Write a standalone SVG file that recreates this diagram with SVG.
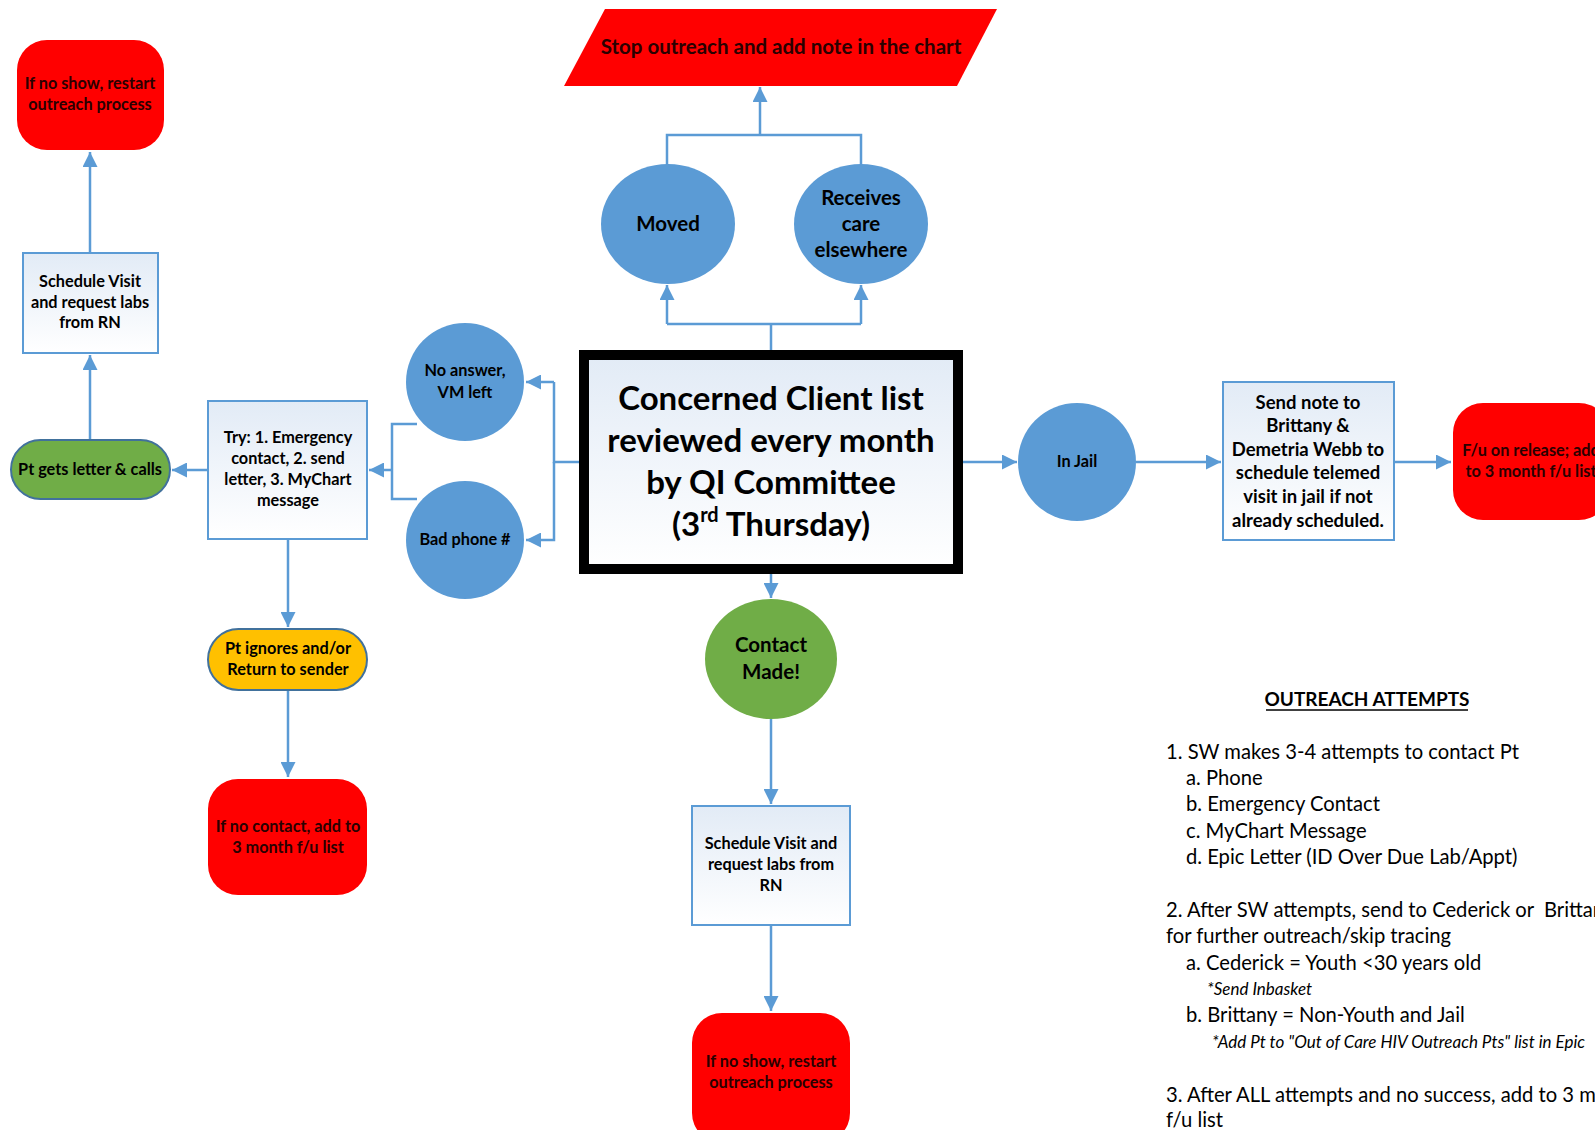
<svg xmlns="http://www.w3.org/2000/svg" width="1595" height="1130" viewBox="0 0 1595 1130">
<defs>
<linearGradient id="bg" x1="0" y1="0" x2="0" y2="1"><stop offset="0" stop-color="#e2ebf6"/><stop offset="1" stop-color="#ffffff"/></linearGradient>
<marker id="ah" viewBox="0 0 10 10" refX="10" refY="5" markerWidth="6" markerHeight="6" orient="auto" markerUnits="strokeWidth"><path d="M0,0 L10,5 L0,10 z" fill="#5b9bd5"/></marker>
</defs>
<style>
.c{stroke:#5b9bd5;stroke-width:2.5;fill:none}
.a{marker-end:url(#ah)}
.box{fill:url(#bg);stroke:#5b9bd5;stroke-width:2}
.blue{fill:#5b9bd5}
.red{fill:#ff0000}
.green{fill:#70ad47}
.yel{fill:#ffc000}
.st{stroke:#41719c;stroke-width:2}
.t{font-family:Lato,"Open Sans","Liberation Sans",sans-serif;font-weight:bold;text-anchor:middle;fill:#000}
.s16{font-size:16.3px}
.s18{font-size:18.5px}
.s20{font-size:20.5px}
.s33{font-size:33px}
.dr{fill:#2a0000}
.l{font-family:Lato,"Open Sans","Liberation Sans",sans-serif;font-size:20.2px;fill:#000}
.i{font-family:Lato,"Open Sans","Liberation Sans",sans-serif;font-style:italic;font-size:17px;fill:#000}
</style>
<rect width="1595" height="1130" fill="#ffffff"/>

<g id="connectors">
<path class="c a" d="M90,440 V355"/>
<path class="c a" d="M90,253 V152"/>
<path class="c a" d="M208,470 H172"/>
<path class="c a" d="M288,539 V627"/>
<path class="c a" d="M288,690 V777"/>
<path class="c" d="M417,424 H392 V499 H417"/>
<path class="c a" d="M392,470 H369"/>
<path class="c" d="M579,462 H554 V382"/>
<path class="c a" d="M554,382 H526"/>
<path class="c a" d="M554,462 V540 H526"/>
<path class="c" d="M771,350 V324 M667,324 H861"/>
<path class="c a" d="M667,324 V285"/>
<path class="c a" d="M861,324 V285"/>
<path class="c" d="M667,165 V135 H861 V165"/>
<path class="c a" d="M760,135 V87"/>
<path class="c a" d="M771,574 V598"/>
<path class="c a" d="M771,719 V804"/>
<path class="c a" d="M771,925 V1011"/>
<path class="c a" d="M963,462 H1017"/>
<path class="c a" d="M1136,462 H1221"/>
<path class="c a" d="M1394,462 H1451"/>
</g>

<g id="n-restart-top">
<rect class="red" x="17" y="40" width="147" height="110" rx="30"/>
<text class="t s16 dr" x="90" y="89">If no show, restart</text>
<text class="t s16 dr" x="90" y="110">outreach process</text>
</g>

<g id="n-schedule-left">
<rect class="box" x="23" y="253" width="135" height="100"/>
<text class="t s16" x="90" y="287">Schedule Visit</text>
<text class="t s16" x="90" y="308">and request labs</text>
<text class="t s16" x="90" y="328">from RN</text>
</g>

<g id="n-pt-gets">
<rect class="green st" x="11" y="440" width="159" height="59" rx="29.5"/>
<text class="t s16" x="90" y="475">Pt gets letter &amp; calls</text>
</g>

<g id="n-try">
<rect class="box" x="208" y="401" width="159" height="138"/>
<text class="t s16" x="288" y="443">Try: 1. Emergency</text>
<text class="t s16" x="288" y="464">contact, 2. send</text>
<text class="t s16" x="288" y="485">letter, 3. MyChart</text>
<text class="t s16" x="288" y="506">message</text>
</g>

<g id="n-ignores">
<rect class="yel st" x="208" y="629" width="159" height="61" rx="30.5"/>
<text class="t s16" x="288" y="654">Pt ignores and/or</text>
<text class="t s16" x="288" y="675">Return to sender</text>
</g>

<g id="n-nocontact">
<rect class="red" x="208" y="779" width="159" height="116" rx="30"/>
<text class="t s16 dr" x="288" y="832">If no contact, add to</text>
<text class="t s16 dr" x="288" y="853">3 month f/u list</text>
</g>

<g id="n-noanswer">
<ellipse class="blue" cx="465" cy="382" rx="59" ry="59"/>
<text class="t s16" x="465" y="376">No answer,</text>
<text class="t s16" x="465" y="398">VM left</text>
</g>

<g id="n-badphone">
<ellipse class="blue" cx="465" cy="540" rx="59" ry="59"/>
<text class="t s16" x="465" y="545">Bad phone #</text>
</g>

<g id="n-main">
<rect x="584" y="355" width="374" height="214" fill="url(#bg)" stroke="#000" stroke-width="10"/>
<text class="t s33" x="771" y="410">Concerned Client list</text>
<text class="t s33" x="771" y="452">reviewed every month</text>
<text class="t s33" x="771" y="494">by QI Committee</text>
<text class="t s33" x="771" y="536">(3<tspan font-size="20" dy="-14">rd</tspan><tspan dy="14"> Thursday)</tspan></text>
</g>

<g id="n-moved">
<ellipse class="blue" cx="668" cy="224" rx="67" ry="60"/>
<text class="t s20" x="668" y="231">Moved</text>
</g>

<g id="n-receives">
<ellipse class="blue" cx="861" cy="224" rx="67" ry="60"/>
<text class="t s20" x="861" y="205">Receives</text>
<text class="t s20" x="861" y="231">care</text>
<text class="t s20" x="861" y="257">elsewhere</text>
</g>

<g id="n-stop">
<polygon class="red" points="605,9 997,9 957,86 564,86"/>
<text class="t s20 dr" x="781" y="54">Stop outreach and add note in the chart</text>
</g>

<g id="n-contact">
<ellipse class="green" cx="771" cy="659" rx="66" ry="60"/>
<text class="t s20" x="771" y="652">Contact</text>
<text class="t s20" x="771" y="679">Made!</text>
</g>

<g id="n-schedule-center">
<rect class="box" x="692" y="806" width="158" height="119"/>
<text class="t s16" x="771" y="849">Schedule Visit and</text>
<text class="t s16" x="771" y="870">request labs from</text>
<text class="t s16" x="771" y="891">RN</text>
</g>

<g id="n-restart-bottom">
<rect class="red" x="692" y="1013" width="158" height="130" rx="30"/>
<text class="t s16 dr" x="771" y="1067">If no show, restart</text>
<text class="t s16 dr" x="771" y="1088">outreach process</text>
</g>

<g id="n-injail">
<ellipse class="blue" cx="1077" cy="462" rx="59" ry="59"/>
<text class="t s16" x="1077" y="467">In Jail</text>
</g>

<g id="n-sendnote">
<rect class="box" x="1223" y="382" width="171" height="158"/>
<text class="t s18" x="1308" y="409">Send note to</text>
<text class="t s18" x="1308" y="432">Brittany &amp;</text>
<text class="t s18" x="1308" y="456">Demetria Webb to</text>
<text class="t s18" x="1308" y="479">schedule telemed</text>
<text class="t s18" x="1308" y="503">visit in jail if not</text>
<text class="t s18" x="1308" y="527">already scheduled.</text>
</g>

<g id="n-release">
<rect class="red" x="1453" y="403" width="156" height="117" rx="30"/>
<text class="t s16 dr" x="1531" y="456">F/u on release; add</text>
<text class="t s16 dr" x="1531" y="477">to 3 month f/u list</text>
</g>

<g id="notes">
<text class="t s20" x="1367" y="706" style="font-size:19px">OUTREACH ATTEMPTS</text>
<line x1="1266" y1="710" x2="1468" y2="710" stroke="#000" stroke-width="1.5"/>
<text class="l" x="1166" y="759">1. SW makes 3-4 attempts to contact Pt</text>
<text class="l" x="1186" y="785">a. Phone</text>
<text class="l" x="1186" y="811">b. Emergency Contact</text>
<text class="l" x="1186" y="838">c. MyChart Message</text>
<text class="l" x="1186" y="864">d. Epic Letter (ID Over Due Lab/Appt)</text>
<text class="l" x="1166" y="917">2. After SW attempts, send to Cederick or&#160; Brittany</text>
<text class="l" x="1166" y="943">for further outreach/skip tracing</text>
<text class="l" x="1186" y="970">a. Cederick = Youth &lt;30 years old</text>
<text class="i" x="1207" y="995">*Send Inbasket</text>
<text class="l" x="1186" y="1022">b. Brittany = Non-Youth and Jail</text>
<text class="i" x="1212" y="1048">*Add Pt to "Out of Care HIV Outreach Pts" list in Epic</text>
<text class="l" x="1166" y="1102">3. After ALL attempts and no success, add to 3 month</text>
<text class="l" x="1166" y="1127">f/u list</text>
</g>
</svg>
